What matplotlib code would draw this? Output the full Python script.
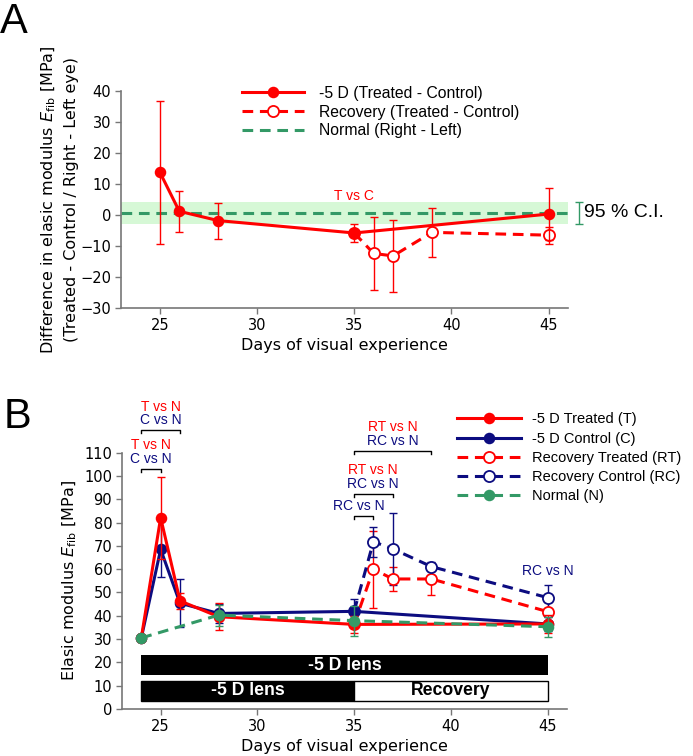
"""Fibre elastic modulus vs days of visual experience (panels A and B)."""
from __future__ import annotations

import matplotlib
matplotlib.use("Agg")
import matplotlib.pyplot as plt
import numpy as np

RED = "#ff0000"
NAVY = "#0c0c80"
GREEN = "#339966"
SPINE = "#777777"
ARIAL = ["Liberation Sans", "DejaVu Sans"]

# ---- panel A: treated - control differences ----
a_days_lens = [25, 26, 28, 35, 45]
a_diff_lens = [13.8, 1.2, -1.8, -5.8, 0.3]
a_err_lens = [23.0, 6.6, 5.8, 2.9, 8.5]

a_days_rec = [35, 36, 37, 39, 45]
a_diff_rec = [-5.8, -12.4, -13.2, -5.6, -6.5]
a_err_rec = [0.0, 11.7, 11.5, 7.8, 2.7]

a_normal_mean = 0.8
a_normal_ci = (-3.0, 4.3)

# ---- panel B: absolute moduli ----
b_days_lens = [24, 25, 26, 28, 35, 45]
b_treated = [30.5, 82.1, 46.4, 39.6, 36.3, 36.5]
b_treated_err = [0.0, 17.6, 3.5, 5.7, 3.7, 4.0]
b_control = [30.5, 68.5, 45.4, 41.0, 41.9, 36.5]
b_control_err = [0.0, 12.0, 10.4, 4.0, 5.4, 3.0]

b_days_rec = [35, 36, 37, 39, 45]
b_rec_treated = [36.3, 60.0, 55.8, 55.8, 41.8]
b_rec_treated_err = [0.0, 16.6, 5.0, 7.0, 4.0]
b_rec_control = [41.9, 71.8, 68.7, 61.1, 47.8]
b_rec_control_err = [0.0, 6.5, 15.5, 2.0, 5.3]

b_days_normal = [24, 28, 35, 45]
b_normal = [30.5, 40.3, 37.9, 35.3]
b_normal_err = [0.0, 4.5, 6.5, 4.3]

# significance brackets: (x0, x1, y, [(label, colour), ...], text x)
b_brackets = [
    (24, 25, 103.0, [("T vs N", RED), ("C vs N", NAVY)], 24.5),
    (24, 26, 119.6, [("T vs N", RED), ("C vs N", NAVY)], 25.0),
    (35, 36, 83.0, [("RC vs N", NAVY)], 35.25),
    (35, 37, 92.3, [("RT vs N", RED), ("RC vs N", NAVY)], 35.95),
    (35, 39, 110.7, [("RT vs N", RED), ("RC vs N", NAVY)], 37.0),
]

# lens schedule bars
lens_start, lens_switch, lens_end = 24, 35, 45


def style_axes(ax):
    for side in ("top", "right"):
        ax.spines[side].set_visible(False)
    for side in ("left", "bottom"):
        ax.spines[side].set_color(SPINE)
        ax.spines[side].set_linewidth(1.2)
    ax.tick_params(direction="out", length=4, width=1, color=SPINE,
                   labelsize=10.5, pad=3)
    ax.set_xlim(23, 46)
    ax.set_xticks([25, 30, 35, 40, 45])
    ax.set_xlabel("Days of visual experience", fontsize=11.5, labelpad=4)


def draw_series(ax, x, y, err, color, ls, filled, label, ms, z):
    ax.errorbar(x, y, yerr=err, fmt="none", ecolor=color, elinewidth=1,
                capsize=3, capthick=1, zorder=z)
    ax.plot(x, y, color=color, ls=ls, lw=2.2, marker="o", ms=ms,
            mfc=color if filled else "white", mec=color, mew=1.3,
            label=label, zorder=z + 0.5, dashes=(3.5, 2.2) if ls == "--" else (None, None))


def panel_a(fig):
    ax = fig.add_axes([0.1746, 0.5926, 0.645, 0.287])
    style_axes(ax)
    ax.set_ylim(-30, 40)
    ax.set_yticks(np.arange(-30, 41, 10))

    ax.axhspan(*a_normal_ci, color="#ccf7cc", alpha=0.8, lw=0, zorder=0)
    ax.axhline(a_normal_mean, color=GREEN, lw=2.2, dashes=(3.5, 2.2), zorder=1,
               label="Normal (Right - Left)")

    draw_series(ax, a_days_rec, a_diff_rec, a_err_rec, RED, "--", False,
                "Recovery (Treated - Control)", 8, 2)
    draw_series(ax, a_days_lens, a_diff_lens, a_err_lens, RED, "-", True,
                "-5 D (Treated - Control)", 7, 3)

    ax.text(35, 6.1, "T vs C", color=RED, fontsize=10, ha="center", va="center",
            family=ARIAL)

    # 95 % CI bracket outside the axes
    ax.errorbar([46.55], [np.mean(a_normal_ci)],
                yerr=[[np.mean(a_normal_ci) - a_normal_ci[0]],
                      [a_normal_ci[1] - np.mean(a_normal_ci)]],
                fmt="none", ecolor=GREEN, elinewidth=1, capsize=3, capthick=1,
                clip_on=False)
    ax.text(46.8, a_normal_mean, "95 % C.I.", fontsize=14, va="center",
            family=ARIAL)

    h, l = ax.get_legend_handles_labels()
    order = [l.index("-5 D (Treated - Control)"),
             l.index("Recovery (Treated - Control)"),
             l.index("Normal (Right - Left)")]
    ax.legend([h[i] for i in order], [l[i] for i in order],
              loc="upper left", bbox_to_anchor=(0.27, 1.025), frameon=False,
              handlelength=4.0, handletextpad=0.95, labelspacing=0.25,
              borderpad=0, borderaxespad=0, prop={"family": ARIAL, "size": 11.3})

    ax.set_ylabel("Difference in elasic modulus $E_{\\mathrm{fib}}$ [MPa]\n"
                  "(Treated - Control / Right - Left eye)", fontsize=11.5,
                  labelpad=1, linespacing=1.45)
    fig.text(0.0, 0.998, "A", fontsize=30, va="top", ha="left", family=ARIAL)


def panel_b(fig):
    ax = fig.add_axes([0.176, 0.0622, 0.642, 0.339])
    style_axes(ax)
    ax.set_ylim(0, 110)
    ax.set_yticks(np.arange(0, 111, 10))

    # lens schedule bars
    ax.barh(18.7, lens_end - lens_start, left=lens_start, height=8.6,
            color="black", zorder=1)
    ax.barh(7.9, lens_switch - lens_start, left=lens_start, height=8.6,
            color="black", edgecolor="black", lw=1, zorder=1)
    ax.barh(7.9, lens_end - lens_switch, left=lens_switch, height=8.6,
            color="white", edgecolor="black", lw=1, zorder=1)
    ax.text((lens_start + lens_end) / 2, 18.7, "-5 D lens", color="white",
            fontsize=12.7, weight="bold", ha="center", va="center", family=ARIAL)
    ax.text((lens_start + lens_switch) / 2, 7.9, "-5 D lens", color="white",
            fontsize=12.7, weight="bold", ha="center", va="center", family=ARIAL)
    ax.text((lens_switch + lens_end) / 2, 7.9, "Recovery", color="black",
            fontsize=12.7, weight="bold", ha="center", va="center", family=ARIAL)

    draw_series(ax, b_days_rec, b_rec_treated, b_rec_treated_err, RED, "--",
                False, "Recovery Treated (RT)", 8, 2)
    draw_series(ax, b_days_rec, b_rec_control, b_rec_control_err, NAVY, "--",
                False, "Recovery Control (RC)", 8, 2)
    draw_series(ax, b_days_lens, b_control, b_control_err, NAVY, "-", True,
                "-5 D Control (C)", 7, 4)
    draw_series(ax, b_days_lens, b_treated, b_treated_err, RED, "-", True,
                "-5 D Treated (T)", 7, 5)
    draw_series(ax, b_days_normal, b_normal, b_normal_err, GREEN, "--", True,
                "Normal (N)", 7, 6)

    for x0, x1, y, labels, tx in b_brackets:
        ax.plot([x0, x0, x1, x1], [y - 1.3, y, y, y - 1.3], color="black",
                lw=1, clip_on=False)
        for k, (txt, col) in enumerate(reversed(labels)):
            ax.text(tx, y + 4.3 + 5.9 * k, txt, color=col, fontsize=10,
                    ha="center", va="center", family=ARIAL, clip_on=False)
    ax.text(45, 59.2, "RC vs N", color=NAVY, fontsize=10, ha="center",
            va="center", family=ARIAL)

    h, l = ax.get_legend_handles_labels()
    want = ["-5 D Treated (T)", "-5 D Control (C)", "Recovery Treated (RT)",
            "Recovery Control (RC)", "Normal (N)"]
    order = [l.index(w) for w in want]
    ax.legend([h[i] for i in order], [l[i] for i in order],
              loc="upper left", bbox_to_anchor=(0.752, 1.157), frameon=False,
              handlelength=4.4, handletextpad=0.8, labelspacing=0.36,
              borderpad=0, borderaxespad=0, prop={"family": ARIAL, "size": 10.5})

    ax.set_ylabel("Elasic modulus $E_{\\mathrm{fib}}$ [MPa]", fontsize=11.5,
                  labelpad=4)
    fig.text(0.005, 0.475, "B", fontsize=30, va="top", ha="left", family=ARIAL)


def main() -> None:
    fig = plt.figure(figsize=(6.93, 7.56), dpi=100)
    panel_a(fig)
    panel_b(fig)
    fig.savefig("out.png", dpi=100)
    plt.close(fig)


if __name__ == "__main__":
    main()
